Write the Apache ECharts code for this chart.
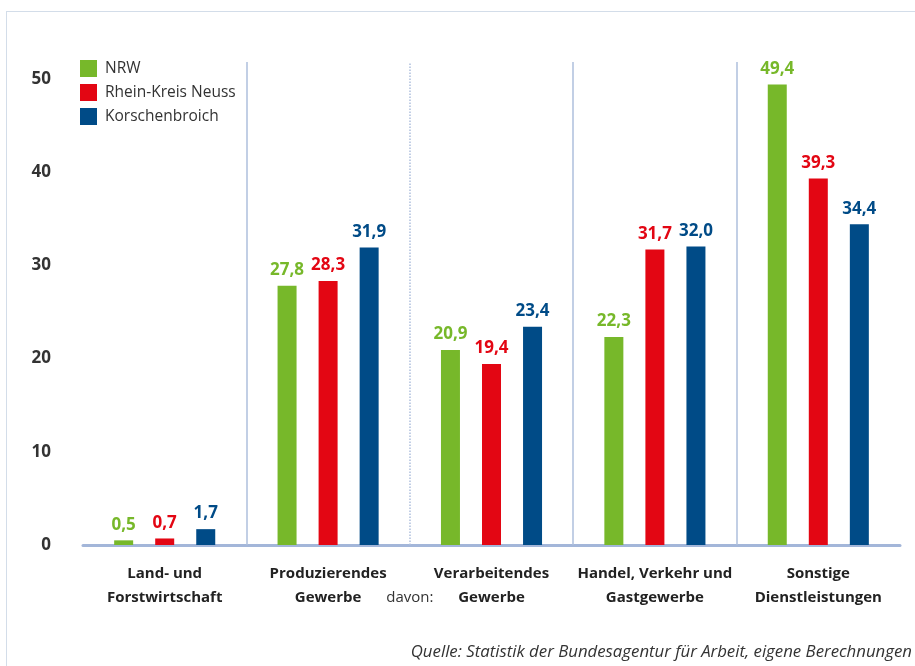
<!DOCTYPE html>
<html>
<head>
<meta charset="utf-8">
<script src="https://cdn.jsdelivr.net/npm/echarts@6/dist/echarts.min.js"></script>
<style>
  html, body { margin: 0; padding: 0; background: #fff; }
  #frame { position: absolute; left: 6px; top: 11px; width: 920px; height: 670px;
           border-left: 1.5px solid #d3dde9; border-top: 1.5px solid #d3dde9; }
  #chart { position: absolute; left: 0; top: 0; width: 915px; height: 666px; }
</style>
</head>
<body>
<div id="frame"></div>
<div id="chart"></div>
<script>
const categories = ['Land- und\nForstwirtschaft', 'Produzierendes\nGewerbe', 'Verarbeitendes\nGewerbe', 'Handel, Verkehr und\nGastgewerbe', 'Sonstige\nDienstleistungen'];
const seriesNames = ['NRW', 'Rhein-Kreis Neuss', 'Korschenbroich'];
const nrw = [0.5, 27.8, 20.9, 22.3, 49.4];
const rkn = [0.7, 28.3, 19.4, 31.7, 39.3];
const kor = [1.7, 31.9, 23.4, 32.0, 34.4];
const colors = ['#77b82a', '#e30613', '#004b87'];
const yTicks = [0, 10, 20, 30, 40, 50];
const dividers = [1, 2, 3, 4];
const dividerTypes = ['solid', 'dotted', 'solid', 'solid'];
const sourceText = 'Quelle: Statistik der Bundesagentur für Arbeit, eigene Berechnungen';
const FONT = 'Open Sans';

const chart = echarts.init(document.getElementById('chart'), null, { renderer: 'canvas' });

function barSeries(name, data, color) {
  return {
    name: name, type: 'bar', data: data, xAxisIndex: 0,
    barWidth: 19, barGap: '116%',
    itemStyle: { color: color },
    label: {
      show: true, position: 'top', distance: 7, color: color,
      fontFamily: FONT, fontWeight: 'bold', fontSize: 17,
      formatter: p => p.value.toFixed(1).replace('.', ',')
    }
  };
}

chart.setOption({
  animation: false,
  textStyle: { fontFamily: FONT },
  title: {
    text: sourceText, right: 3, bottom: 5, padding: 0,
    textStyle: { fontFamily: FONT, fontStyle: 'italic', fontWeight: 'normal', fontSize: 16.8, color: '#333' }
  },
  legend: {
    data: seriesNames, orient: 'vertical', left: 80, top: 60, padding: 0,
    itemWidth: 17, itemHeight: 17, itemGap: 7, icon: 'rect',
    textStyle: { fontFamily: FONT, fontSize: 15.5, color: '#333', padding: [0, 0, 0, 3] }
  },
  grid: { left: 83, right: 15, top: 62, bottom: 121 },
  xAxis: [
    {
      type: 'category', data: categories,
      axisLine: { lineStyle: { color: '#a3b6d9', width: 3 } },
      axisTick: { show: false },
      axisLabel: { margin: 17, fontFamily: FONT, fontWeight: 'bold', fontSize: 15, lineHeight: 24, color: '#222', interval: 0 },
      splitLine: { show: false }
    },
    {
      type: 'value', min: 0, max: 5, interval: 1, position: 'bottom',
      axisLine: { show: false }, axisTick: { show: false }, splitLine: { show: false },
      axisLabel: {
        margin: 41, fontFamily: FONT, fontSize: 15, lineHeight: 24, color: '#333',
        formatter: v => (v === 2 ? 'davon:' : '')
      }
    }
  ],
  yAxis: {
    type: 'value', min: 0, max: 51.8, interval: 10,
    axisLine: { show: false }, axisTick: { show: false }, splitLine: { show: false },
    axisLabel: {
      margin: 32, fontFamily: FONT, fontWeight: 'bold', fontSize: 17, color: '#333',
      showMaxLabel: false,
      formatter: v => (yTicks.indexOf(v) >= 0 ? String(v) : '')
    }
  },
  series: [
    barSeries(seriesNames[0], nrw, colors[0]),
    barSeries(seriesNames[1], rkn, colors[1]),
    barSeries(seriesNames[2], kor, colors[2]),
    {
      type: 'scatter', xAxisIndex: 1, data: [], silent: true,
      markLine: {
        silent: true, symbol: 'none', label: { show: false },
        data: dividers.map((d, i) => ({ xAxis: d, lineStyle: { color: '#aebfdd', width: 1.5, type: dividerTypes[i] } }))
      }
    }
  ]
});
</script>
</body>
</html>
